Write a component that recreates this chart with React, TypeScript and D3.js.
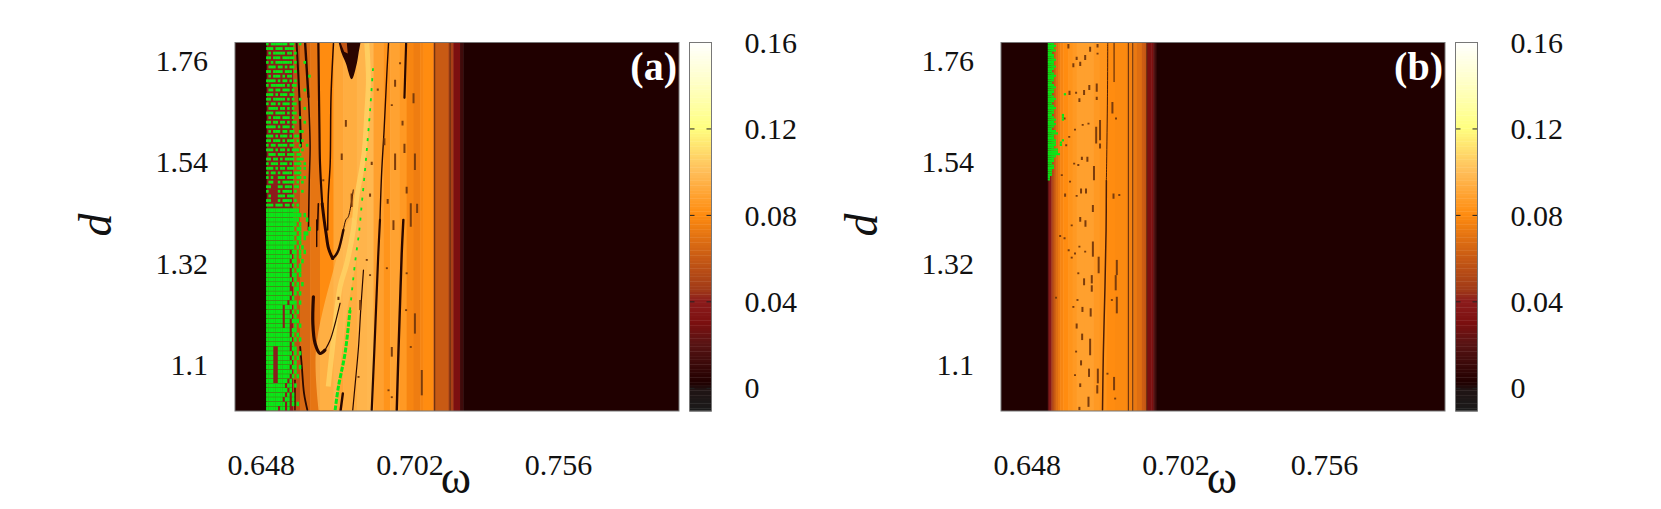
import { useRef, useEffect } from "react";
import * as d3 from "d3";

// axis ticks
const omegaTicks = [0.648, 0.702, 0.756];
const dTicks = [1.1, 1.32, 1.54, 1.76];
const cbTicks = [0, 0.04, 0.08, 0.12, 0.16];

// palette stops
const cbStops = [-0.0105, -0.001, 0.002, 0.02, 0.03, 0.04, 0.045, 0.06, 0.08, 0.1, 0.12, 0.14, 0.16];
const cbColors = ["#1a1a1a", "#201414", "#200000", "#581414", "#7c1010", "#8c1c1c", "#a03a18", "#c85a14", "#ff8c10", "#ffbe5a", "#ffff80", "#ffffc4", "#ffffff"];

// background columns: left edge in omega, value
const bandsA: [number, number][] = [
  [0.6386, 0.002], [0.6501, 0.04], [0.6598, 0.056], [0.6622, 0.066], [0.6659, 0.071],
  [0.6695, 0.08], [0.6744, 0.09], [0.678, 0.093], [0.6829, 0.096], [0.6865, 0.097], [0.6889, 0.088],
  [0.6925, 0.083], [0.695, 0.089], [0.6985, 0.085], [0.701, 0.077], [0.7035, 0.074], [0.7059, 0.077],
  [0.7071, 0.08], [0.7107, 0.06], [0.7162, 0.048], [0.718, 0.03], [0.7204, 0.012], [0.7216, 0.002],
];
const bandsB: [number, number][] = [
  [0.6386, 0.002], [0.6556, 0.02], [0.6559, 0.028], [0.6562, 0.035], [0.6566, 0.04], [0.6569, 0.046],
  [0.6573, 0.052], [0.6577, 0.058], [0.6581, 0.063], [0.6586, 0.068], [0.6593, 0.073], [0.6601, 0.077],
  [0.6612, 0.08], [0.6631, 0.083], [0.6646, 0.085], [0.6661, 0.088], [0.669, 0.088], [0.6722, 0.085],
  [0.6745, 0.083], [0.677, 0.08], [0.68, 0.079], [0.6843, 0.076], [0.6867, 0.072], [0.688, 0.068],
  [0.6898, 0.061], [0.6908, 0.058], [0.6916, 0.03], [0.6932, 0.03], [0.694, 0.018], [0.6946, 0.01], [0.6952, 0.002],
];

// panel (a): brighter wedge and the pale ridge running through it
const lightWedgeA: [number, number][] = [
  [0.669, 1.002], [0.668, 1.13], [0.6741, 1.3], [0.681, 1.42], [0.6835, 1.4],
  [0.679, 1.2], [0.676, 1.05], [0.675, 1.002],
];
const paleRidgeA: [number, number][] = [
  [0.6865, 1.798], [0.6871, 1.719], [0.6865, 1.646], [0.6855, 1.559], [0.6829, 1.465],
  [0.6816, 1.393], [0.6792, 1.32], [0.6768, 1.27], [0.6738, 1.125], [0.6725, 1.053],
];

// panel (a): periodic tongues and windows
const tongueA: [number, number][] = [
  [0.6762, 1.802], [0.6774, 1.776], [0.6789, 1.755], [0.681, 1.72], [0.6829, 1.755], [0.6835, 1.776], [0.6843, 1.802],
];
const notchA: [number, number][] = [[0.6768, 1.802], [0.6792, 1.802], [0.6796, 1.776], [0.6783, 1.78]];
const ridgesA: [number, [number, number][]][] = [
  [2.2, [[0.7008, 1.798], [0.7004, 1.719], [0.7002, 1.68]]],
  [2.4, [[0.6998, 1.415], [0.6992, 1.342], [0.6986, 1.234], [0.698, 1.125], [0.6974, 1.002]]],
  [1.4, [[0.6944, 1.798], [0.6938, 1.733], [0.6928, 1.61], [0.6919, 1.516], [0.6913, 1.415]]],
  [2.2, [[0.6913, 1.415], [0.6907, 1.342], [0.6901, 1.255], [0.6892, 1.125], [0.6883, 1.002]]],
  [1.2, [[0.6853, 1.306], [0.6843, 1.219], [0.6835, 1.139], [0.6822, 1.053], [0.6814, 1.002]]],
  [2.4, [[0.677, 1.002], [0.6778, 1.038]]],
  [1.5, [[0.6744, 1.798], [0.6735, 1.682], [0.6732, 1.538], [0.6725, 1.465], [0.6723, 1.393]]],
  [2.2, [[0.6689, 1.798], [0.6693, 1.61], [0.6695, 1.538], [0.6703, 1.45]]],
  [3, [[0.6703, 1.45], [0.671, 1.415], [0.6717, 1.386], [0.6726, 1.353], [0.6741, 1.331]]],
  [2.4, [[0.6741, 1.331], [0.6752, 1.338], [0.6762, 1.349], [0.678, 1.393]]],
  [1, [[0.678, 1.393], [0.6789, 1.415], [0.6798, 1.422], [0.6816, 1.48]]],
  [1.6, [[0.6689, 1.45], [0.6686, 1.393]]],
  [2.4, [[0.6641, 1.798], [0.6653, 1.682]]],
  [1.5, [[0.6653, 1.682], [0.6659, 1.574], [0.6656, 1.501], [0.6653, 1.393]]],
  [2, [[0.661, 1.798], [0.662, 1.682], [0.6626, 1.574]]],
  [1.4, [[0.6683, 1.415], [0.6683, 1.357]]],
  [3.2, [[0.6671, 1.248], [0.6669, 1.19], [0.6677, 1.147], [0.6695, 1.125], [0.6713, 1.132]]],
  [1.2, [[0.6713, 1.132], [0.6732, 1.154], [0.675, 1.19], [0.6768, 1.234]]],
  [1.8, [[0.6623, 1.139], [0.6629, 1.096], [0.6637, 1.038], [0.6649, 1.002]]],
  [1.4, [[0.6604, 1.067], [0.6604, 1.002]]],
];
const dashesA: [number, number, number][] = [
  [0.6986, 1.757, 1.753], [0.6968, 1.719, 1.704], [0.7035, 1.69, 1.668], [0.6956, 1.666, 1.662], [0.6929, 1.592, 1.577],
  [0.6968, 1.559, 1.523], [0.704, 1.559, 1.523], [0.701, 1.487, 1.472], [0.7025, 1.451, 1.4], [0.6962, 1.414, 1.393],
  [0.681, 1.472, 1.443], [0.6789, 1.632, 1.617], [0.6774, 1.559, 1.545], [0.6883, 1.541, 1.534], [0.6877, 1.472, 1.465],
  [0.6707, 1.503, 1.499], [0.6956, 1.139, 1.118], [0.7065, 1.089, 1.034], [0.704, 1.212, 1.168], [0.701, 1.301, 1.297],
  [0.6944, 1.047, 1.043], [0.6956, 1.032, 1.028], [0.6938, 1.312, 1.308], [0.6877, 1.297, 1.293], [0.7025, 1.141, 1.137],
  [0.7008, 1.221, 1.217], [0.6841, 1.241, 1.219], [0.6762, 1.248, 1.241], [0.6865, 1.33, 1.326], [0.6835, 1.076, 1.072],
  [0.6941, 1.46, 1.45], [0.6995, 1.63, 1.62], [0.7048, 1.45, 1.43], [0.7002, 1.58, 1.56], [0.6905, 1.7, 1.695],
];
const greenLowA: [number, number][] = [[0.675, 1.002], [0.6762, 1.053], [0.6786, 1.125], [0.6804, 1.219]];
const greenHighA: [number, number][] = [
  [0.6804, 1.219], [0.6822, 1.32], [0.6838, 1.393], [0.6847, 1.451], [0.6853, 1.487], [0.6865, 1.566], [0.6877, 1.653], [0.6889, 1.755],
];
// green (no convergence) cells, one string per d row from d = 1.8 downward
const greenA = [
  "#.#######.##..#....", "###.###.####.......", ".#.#####.##.#......", "##.###.#####.......",
  "#.#.#######.#...#..", ".###.##.#.##.......", "##.####.###.#......", ".#.###.#.##.......#",
  "####.#.##.#.#......", "#.######.#.##......", ".##.##.###.#....#..", "###.#.###.##.......",
  "##.#####.#.#..#....", "#.##.#.###.##......", ".####.##.#.#....#..", "###.####.#.##......",
  ".#.###.###.#..#....", "##.##.##.#.##...#..", "####.#.###.#.......", ".#.###.##.##..##...",
  "###.#.###.#.##.....", "##.###.#.###.#.#...", "#.##.####.##..#..#.", "###.#.##.#.###.#...",
  ".###.###.###.##....", "##.##.#.####.###...", "#.###.###.#.###.#..", "###.#.##.###.##.#..",
  "#.##.#.####.###....", "#.#..###.###.##.#..", ".##..#.#####.#.#...", "##...##.###.##.....",
  "#....#.####.#..#...", ".#...###.###.......", "##...#.####.#......", "###.###.##.#.#.....",
  "##############.....", "###############.#..", "##############...#.", "#############.#....",
  "############.##...#", "#############.#.##.", "############.##.#..", "#############.#....",
  "############.#.#...", "##########.##.#.#..", "###########.#.#....", "##########.##..#...",
  "###########.#.#....", "##########.#.##....", "##########.##.#....", "###########.#......",
  "##########.#.#.#...", "##########..##.....", "###########.#.#....", "##########.#.......",
  "#########.###.#....", "#######.###.#......", "#######.##.#.#.....", "#######.###.#......",
  "#######.##.###.....", "#######.##..#.#....", "##########.##......", "##########.#.#.....",
  "###########.#.#....", "##########.#.......", "###..#####.##......", "###..######.#.#....",
  "###..#####.#.#.....", "###..######.#.......", "###..#####.##.#.....", "###..######.#.......",
  "###..#####.#.#......", "###..####.#.........", "########.##.#.......", "#########.#.........",
  "########.#.#........", "#######.##.#........", "########.#.#.#......", "#####.##.#..........",
];

// panel (b)
const linesB: [number, [number, number][]][] = [
  [1, [[0.6774, 1.798], [0.6773, 1.682], [0.677, 1.538], [0.6769, 1.5]]],
  [1.5, [[0.6769, 1.5], [0.6768, 1.393], [0.6764, 1.27], [0.6758, 1.125], [0.6755, 1.002]]],
  [1, [[0.6797, 1.798], [0.6797, 1.715]]],
];
const dashesB: [number, number, number][] = [
  [0.6631, 1.797, 1.787], [0.6661, 1.769, 1.762], [0.6649, 1.755, 1.746], [0.6674, 1.758, 1.749], [0.6692, 1.773, 1.762],
  [0.671, 1.791, 1.78], [0.6737, 1.797, 1.789], [0.6737, 1.778, 1.774], [0.6734, 1.711, 1.693], [0.6707, 1.708, 1.697],
  [0.6688, 1.697, 1.686], [0.6635, 1.695, 1.686], [0.6659, 1.693, 1.689], [0.6671, 1.679, 1.671], [0.6734, 1.682, 1.675],
  [0.6617, 1.637, 1.633], [0.6746, 1.632, 1.588], [0.6704, 1.626, 1.622], [0.6732, 1.617, 1.581], [0.6655, 1.613, 1.609],
  [0.6634, 1.597, 1.593], [0.6683, 1.623, 1.619], [0.6623, 1.579, 1.575], [0.6746, 1.581, 1.57], [0.67, 1.552, 1.541],
  [0.668, 1.552, 1.545], [0.6652, 1.539, 1.535], [0.6667, 1.536, 1.532], [0.6724, 1.532, 1.501], [0.6607, 1.514, 1.51],
  [0.6637, 1.5, 1.496], [0.6677, 1.483, 1.472], [0.6695, 1.483, 1.472], [0.6619, 1.472, 1.465], [0.6661, 1.469, 1.465],
  [0.6795, 1.472, 1.461], [0.6816, 1.471, 1.467], [0.672, 1.447, 1.432], [0.6674, 1.421, 1.411], [0.6693, 1.414, 1.4],
  [0.6643, 1.405, 1.401], [0.6791, 1.671, 1.646], [0.6804, 1.637, 1.633], [0.672, 1.368, 1.335], [0.6741, 1.335, 1.299],
  [0.6807, 1.328, 1.295], [0.6803, 1.295, 1.262], [0.6807, 1.248, 1.212], [0.6716, 1.295, 1.277], [0.6716, 1.273, 1.259],
  [0.6688, 1.288, 1.273], [0.6712, 1.223, 1.205], [0.6682, 1.226, 1.215], [0.6649, 1.228, 1.224], [0.6667, 1.301, 1.297],
  [0.6586, 1.248, 1.244], [0.6664, 1.243, 1.239], [0.6661, 1.19, 1.179], [0.6681, 1.168, 1.154], [0.671, 1.157, 1.121],
  [0.6659, 1.131, 1.127], [0.6677, 1.11, 1.099], [0.6655, 1.08, 1.076], [0.6706, 1.092, 1.074], [0.6738, 1.092, 1.06],
  [0.6797, 1.074, 1.045], [0.6674, 1.06, 1.052], [0.6704, 1.031, 1.009], [0.6736, 1.056, 1.038], [0.6801, 1.029, 1.025],
  [0.6671, 1.009, 1.002], [0.6773, 1.083, 1.079], [0.6789, 1.243, 1.239], [0.6632, 1.351, 1.347], [0.6655, 1.344, 1.34],
  [0.6643, 1.335, 1.331], [0.6692, 1.348, 1.344], [0.6671, 1.359, 1.355], [0.6617, 1.377, 1.373], [0.6601, 1.382, 1.378],
];
const greenB = [
  "###", "####", "###", "####", "##", "###", "###", "####", "###", "###",
  "####", "###", "##", "###", "####", "###", "###", "##", "###", "####",
  "###", "###.....", "##......#", "###", "####", "###", "##", "###", "####", "###",
  "###", "##.....#", "###....#", "####...#", "###", "####", "###", "##", "####", "#####",
  "###.....", "###", "####...#", "####..#", "####..#", "###", "#####", "#####", "######", "####",
  "###", "###", "##", "###", "###", "##", "##", "##", "#", "#",
];

const width = 1661;
const height = 509;
const plotH = { top: 42.5, bottom: 411 };
const omegaDomain = [0.6386, 0.8];
const dDomain = [1.0, 1.8];
const cbDomain = [-0.0105, 0.16];
const serif = "'Liberation Serif', serif";

const color = d3.scaleLinear<string>().domain(cbStops).range(cbColors);
const line = d3.line().curve(d3.curveCatmullRom);

type PanelProps = {
  left: number;
  label: string;
  bands: [number, number][];
  barX: number;
  omegaX: number;
  mask: string[];
  maskOmega: number;
  maskStep: [number, number];
  solidFrom: number;
  wedge?: [number, number][];
  pale?: [number, number][];
  tongue?: [number, number][];
  notch?: [number, number][];
  ridges: [number, [number, number][]][];
  ridgeColor: string;
  dashes: [number, number, number][];
  fixedLines: number[];
  greenLow?: [number, number][];
  greenHigh?: [number, number][];
};

function Panel(p: PanelProps) {
  const ref = useRef<SVGGElement>(null);
  const x = d3.scaleLinear().domain(omegaDomain).range([p.left, p.left + 444]);
  const y = d3.scaleLinear().domain(dDomain).range([plotH.bottom, plotH.top]);
  const cb = d3.scaleLinear().domain(cbDomain).range([plotH.bottom, plotH.top]);
  const xy = (pts: [number, number][]) => pts.map(([a, b]) => [x(a), y(b)] as [number, number]);
  const clip = `clip-${p.label}`;
  const edges = p.bands.map((b) => b[0]).concat(omegaDomain[1]);
  const levels = d3.range(cbDomain[0], cbDomain[1], 0.0012);

  useEffect(() => {
    const g = d3.select(ref.current);
    g.selectAll("*").remove();
    const style = (s: any) => {
      s.select(".domain").remove();
      s.selectAll("text").attr("font-family", serif).attr("font-size", 30).attr("fill", "#111");
    };
    g.append("g")
      .attr("transform", `translate(0,${plotH.bottom})`)
      .call(d3.axisBottom(x).tickValues(omegaTicks).tickFormat(d3.format(".3f") as any).tickSize(0).tickPadding(43))
      .call(style);
    g.append("g")
      .attr("transform", `translate(${p.left},0)`)
      .call(d3.axisLeft(y).tickValues(dTicks).tickFormat((d: any) => String(d)).tickSize(0).tickPadding(27))
      .call(style);
    g.append("g")
      .attr("transform", `translate(${p.barX + 22},0)`)
      .call(d3.axisRight(cb).tickValues(cbTicks).tickFormat((d: any) => String(d)).tickSize(0).tickPadding(33))
      .call(style);
  }, []);

  const cellH = y(0) - y(p.maskStep[1]);

  return (
    <g>
      <clipPath id={clip}>
        <rect x={p.left} y={plotH.top} width={444} height={plotH.bottom - plotH.top} />
      </clipPath>
      <g clipPath={`url(#${clip})`}>
        {p.bands.map(([w, v], i) => (
          <rect key={i} x={x(w)} y={plotH.top} width={x(edges[i + 1]) - x(w) + 0.5} height={plotH.bottom - plotH.top} fill={color(v)} />
        ))}
        {p.wedge && <path d={line(xy(p.wedge)) + "Z"} fill={color(0.1)} fillOpacity={0.7} />}
        {p.pale && <path d={line(xy(p.pale)) ?? ""} fill="none" stroke={color(0.107)} strokeWidth={5} strokeOpacity={0.75} />}
        {p.ridges.map(([w, pts], i) => (
          <path key={i} d={line(xy(pts)) ?? ""} fill="none" stroke={p.ridgeColor} strokeWidth={w} strokeLinecap="round" />
        ))}
        {p.dashes.map(([w, d0, d1], i) => (
          <line key={i} x1={x(w)} x2={x(w)} y1={y(d0)} y2={y(d1)} stroke="#7a3c0c" strokeWidth={2} />
        ))}
        {p.tongue && <path d={line(xy(p.tongue)) + "Z"} fill="#2a0500" />}
        {p.notch && <path d={d3.line()(xy(p.notch)) + "Z"} fill={color(0.058)} />}
        {p.fixedLines.map((w, i) => (
          <line key={i} x1={x(w)} x2={x(w)} y1={plotH.top} y2={plotH.bottom} stroke="#5a2a10" strokeWidth={1} />
        ))}
        {p.mask.map((row, i) =>
          row.split("").map((c, j) =>
            c === "#" ? (
              <rect
                key={`${i}-${j}`}
                x={x(p.maskOmega + j * p.maskStep[0])}
                y={y(1.8 - i * p.maskStep[1])}
                width={x(p.maskStep[0]) - x(0) + 0.2}
                height={i < p.solidFrom ? cellH * 0.62 : cellH * 0.93}
                fill="#08e818"
              />
            ) : null
          )
        )}
        {p.greenLow && <path d={line(xy(p.greenLow)) ?? ""} fill="none" stroke="#08e818" strokeWidth={3} strokeDasharray="5 1.5" />}
        {p.greenHigh && <path d={line(xy(p.greenHigh)) ?? ""} fill="none" stroke="#08e818" strokeWidth={1.8} strokeDasharray="3 7" />}
      </g>
      <rect x={p.left} y={plotH.top} width={444} height={plotH.bottom - plotH.top} fill="none" stroke="#777" strokeWidth={1} />
      <text x={p.left + 442} y={80} textAnchor="end" fontFamily={serif} fontWeight="bold" fontSize={40} fill="#fff">
        {`(${p.label})`}
      </text>
      {levels.map((v, i) => (
        <rect key={i} x={p.barX} y={cb(v + 0.0012)} width={22} height={cb(v) - cb(v + 0.0012) + 0.4} fill={color(v)} />
      ))}
      {cbTicks.slice(0, 4).map((v) => (
        <g key={v} stroke="#222" strokeWidth={1}>
          <line x1={p.barX} x2={p.barX + 5} y1={cb(v)} y2={cb(v)} />
          <line x1={p.barX + 17} x2={p.barX + 22} y1={cb(v)} y2={cb(v)} />
        </g>
      ))}
      <rect x={p.barX} y={plotH.top} width={22} height={plotH.bottom - plotH.top} fill="none" stroke="#777" strokeWidth={1} />
      <text x={p.omegaX} y={493} textAnchor="middle" fontFamily={serif} fontSize={46} fill="#111">ω</text>
      <text transform={`translate(${p.left - 124},225) rotate(-90)`} textAnchor="middle" fontFamily={serif} fontStyle="italic" fontSize={46} fill="#111">d</text>
      <g ref={ref} />
    </g>
  );
}

export default function App() {
  return (
    <svg width={width} height={height} style={{ position: "absolute", left: 0, top: 0, background: "#fff" }}>
      <Panel
        left={235}
        label="a"
        bands={bandsA}
        barX={689.5}
        omegaX={456}
        mask={greenA}
        maskOmega={0.6499}
        maskStep={[0.00085, 0.01]}
        solidFrom={36}
        wedge={lightWedgeA}
        pale={paleRidgeA}
        tongue={tongueA}
        notch={notchA}
        ridges={ridgesA}
        ridgeColor="#2a0800"
        dashes={dashesA}
        fixedLines={[0.7112, 0.7168]}
        greenLow={greenLowA}
        greenHigh={greenHighA}
      />
      <Panel
        left={1001}
        label="b"
        bands={bandsB}
        barX={1455.5}
        omegaX={1222}
        mask={greenB}
        maskOmega={0.6556}
        maskStep={[0.00073, 0.005]}
        solidFrom={0}
        ridges={linesB}
        ridgeColor="#4a1c06"
        dashes={dashesB}
        fixedLines={[0.6849, 0.6865, 0.6916]}
      />
    </svg>
  );
}
